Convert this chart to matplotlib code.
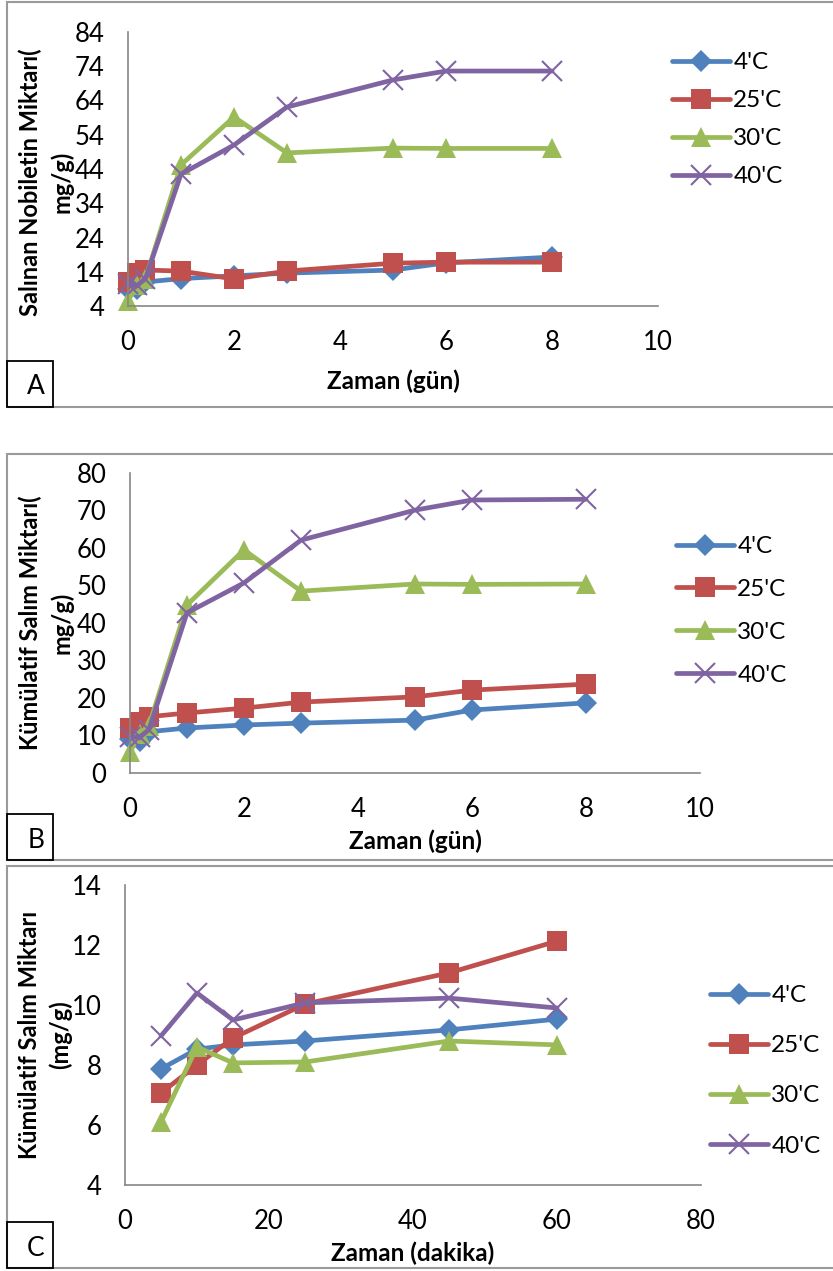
import numpy as np
import matplotlib.pyplot as plt
from matplotlib.patches import Rectangle

plt.rcParams['font.family'] = ['Lato', 'DejaVu Sans']

W, H = 833, 1271

# --- data ---
labels = ["4'C", "25'C", "30'C", "40'C"]
colors = ['#4F81BD', '#C0504D', '#9BBB59', '#8064A2']
markers = ['D', 's', '^', 'x']
msizes = [11, 14.5, 15, 14]

days = [0, 0.17, 0.33, 1, 2, 3, 5, 6, 8]

a_4 = [9.0, 9.0, 11.0, 12.0, 12.8, 13.6, 14.5, 16.6, 18.3]
a_25 = [11.0, 13.5, 14.5, 14.2, 11.9, 14.2, 16.5, 16.8, 16.8]
a_30 = [5.5, 10.0, 12.0, 45.2, 59.2, 48.7, 50.1, 50.0, 50.0]
a_40 = [10.5, 10.0, 12.0, 42.5, 51.0, 62.1, 70.0, 72.6, 72.6]

b_4 = [9.0, 8.5, 11.0, 12.0, 12.8, 13.3, 14.1, 16.8, 18.7]
b_25 = [12.0, 13.5, 15.0, 16.0, 17.3, 18.9, 20.3, 22.1, 23.7]
b_30 = [5.5, 10.5, 12.5, 44.8, 59.5, 48.5, 50.4, 50.3, 50.4]
b_40 = [9.5, 9.6, 11.5, 42.7, 50.7, 62.1, 70.1, 72.8, 73.0]

minutes = [5, 10, 15, 25, 45, 60]
c_4 = [7.87, 8.53, 8.67, 8.80, 9.17, 9.53]
c_25 = [7.07, 8.0, 8.9, 10.03, 11.07, 12.13]
c_30 = [6.1, 8.6, 8.07, 8.1, 8.8, 8.67]
c_40 = [8.97, 10.4, 9.5, 10.07, 10.23, 9.9]

fig = plt.figure(figsize=(W / 100, H / 100), dpi=100)


def fx(px):
    return px / W


def fy(py):
    return 1 - py / H


def panel(box, x, series, xlim, xticks, ylim, yticks, ylab, xlab, ylab_pos,
          xlab_pos, leg_pos, leg_space, letter, frame):
    l, t, r, b = box
    ax = fig.add_axes([fx(l), fy(b), fx(r - l), (b - t) / H])
    for ys, c, m, ms, lab in zip(series, colors, markers, msizes, labels):
        mew = 1.5 if m == 'x' else 0
        ax.plot(x, ys, color=c, lw=3.4, marker=m, ms=ms, mew=mew,
                mec=c, mfc=c, label=lab, clip_on=False, solid_capstyle='round')
    ax.set_xlim(*xlim)
    ax.set_ylim(*ylim)
    ax.set_xticks(xticks)
    ax.set_yticks(yticks)
    for s in ['top', 'right']:
        ax.spines[s].set_visible(False)
    for s in ['left', 'bottom']:
        ax.spines[s].set_color('#868686')
        ax.spines[s].set_linewidth(1.2)
    ax.tick_params(length=0, labelsize=18.5, pad=17)
    ax.set_facecolor('none')

    fig.text(fx(ylab_pos[0]), fy(ylab_pos[1]), ylab, rotation=90,
             ha='center', va='center', multialignment='center',
             fontsize=17, fontweight='bold', linespacing=1.4)
    fig.text(fx(xlab_pos[0]), fy(xlab_pos[1]), xlab, ha='center',
             va='baseline', fontsize=17.5, fontweight='bold')

    fig.legend(handles=ax.get_lines(), loc='upper left',
               bbox_to_anchor=(fx(leg_pos[0]), fy(leg_pos[1])),
               frameon=False, fontsize=17.5, handlelength=2.4,
               handletextpad=0.12, labelspacing=leg_space,
               borderpad=0, borderaxespad=0)

    ft, fb = frame
    fig.patches.append(Rectangle((fx(7), fy(fb)), 1.2, (fb - ft) / H,
                                 transform=fig.transFigure, fill=False,
                                 ec='#9a9a9a', lw=1.5))
    fig.patches.append(Rectangle((fx(7), fy(fb)), fx(46), 46 / H,
                                 transform=fig.transFigure, fill=False,
                                 ec='black', lw=1.3))
    fig.text(fx(36), fy(fb - 20), letter, ha='center', va='center',
             fontsize=19)
    return ax


panel((128, 32, 658, 306), days, [a_4, a_25, a_30, a_40],
      (0, 10), [0, 2, 4, 6, 8, 10], (4, 84), np.arange(4, 85, 10),
      'Salınan Nobiletin Miktarı(\nmg/g)', 'Zaman (gün)',
      (46, 182), (393, 389), (672, 52), 0.7, 'A', (2, 407))

panel((130, 473, 700, 773), days, [b_4, b_25, b_30, b_40],
      (0, 10), [0, 2, 4, 6, 8, 10], (0, 80), np.arange(0, 81, 10),
      'Kümülatif Salım Miktarı(\nmg/g)', 'Zaman (gün)',
      (46, 623), (415, 849), (676, 536), 0.9, 'B', (454, 860))

panel((125, 885, 701, 1185), minutes, [c_4, c_25, c_30, c_40],
      (0, 80), [0, 20, 40, 60, 80], (4, 14), np.arange(4, 15, 2),
      'Kümülatif Salım Miktarı\n(mg/g)', 'Zaman (dakika)',
      (45, 1035), (413, 1261), (710, 985), 1.2, 'C', (866, 1268))

fig.savefig('out.png', dpi=100)
